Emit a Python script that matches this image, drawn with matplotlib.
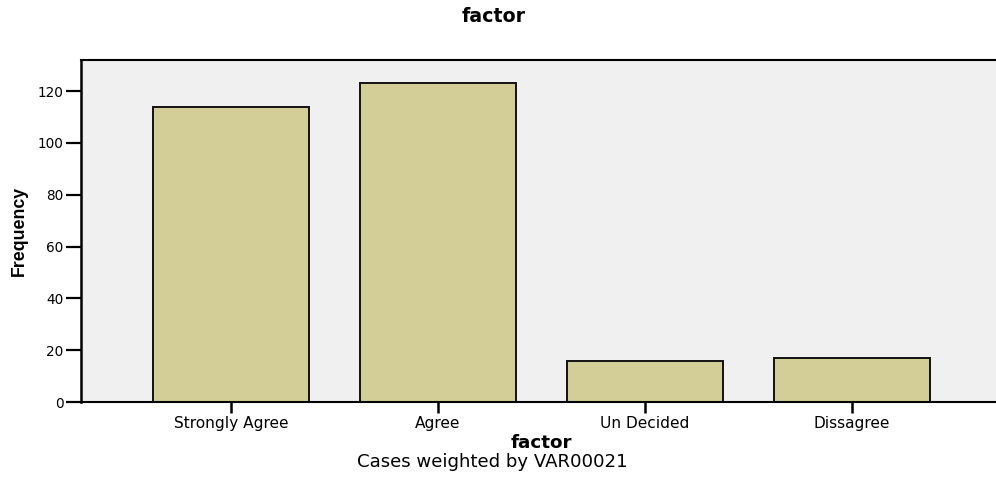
import matplotlib
matplotlib.use("Agg")
import matplotlib.pyplot as plt

categories = ["Strongly Agree", "Agree", "Un Decided", "Dissagree"]
frequencies = [114, 123, 16, 17]
yticks = [0, 20, 40, 60, 80, 100, 120]

plt.rcParams['font.family'] = ['DejaVu Sans']

W, H = 996, 500
fig = plt.figure(figsize=(W/100, H/100), dpi=100)
renderer = fig.canvas.get_renderer()


def fit_size(s, target_px, **kw):
    t = fig.text(0, 0, s, fontsize=10, **kw)
    w = t.get_window_extent(renderer).width
    t.remove()
    return 10 * target_px / w


left, right, top, bottom = 81, 998, 60, 402
ax = fig.add_axes([left/W, 1-bottom/H, (right-left)/W, (bottom-top)/H])
ax.set_facecolor("#F0F0F0")

x = list(range(len(categories)))
ax.bar(x, frequencies, width=0.754, color="#D3CE97", edgecolor="#111111", linewidth=1.4, zorder=2)

ax.set_xlim(-0.725, 3.706)
ax.set_ylim(0, 132)

xs = fit_size("Strongly Agree", 114)
ys = fit_size("120", 26)
ax.set_yticks(yticks)
ax.set_yticklabels([str(v) for v in yticks], fontsize=ys)
ax.set_xticks(x)
ax.set_xticklabels(categories, fontsize=xs)
ax.tick_params(axis='y', direction='out', length=11, width=1.6, color='black', pad=1.5)
ax.tick_params(axis='x', direction='out', length=8, width=1.8, color='black', pad=2)
ax.spines['right'].set_visible(False)
ax.spines['left'].set_linewidth(1.8)
ax.spines['bottom'].set_linewidth(1.5)
ax.spines['top'].set_linewidth(1.5)
for s in ax.spines.values():
    s.set_color('black')

freq_family = ['Liberation Sans', 'DejaVu Sans']
fs_freq = fit_size("Frequency", 90, fontweight='bold', family=freq_family)
fig.text(19/W, 1-231/H, "Frequency", rotation=90, ha='center', va='center',
         fontsize=fs_freq, fontweight='bold', family=freq_family)

fs_title = fit_size("factor", 64, fontweight='bold')
fig.text(493.5/W, 1-22/H, "factor", ha='center', va='baseline', fontsize=fs_title, fontweight='bold')
fs_xl = fit_size("factor", 62, fontweight='bold')
fig.text(541.5/W, 1-448/H, "factor", ha='center', va='baseline', fontsize=fs_xl, fontweight='bold')
fs_foot = fit_size("Cases weighted by VAR00021", 270)
fig.text(492.5/W, 1-467/H, "Cases weighted by VAR00021", ha='center', va='baseline', fontsize=fs_foot)

fig.savefig("out.png", dpi=100)
